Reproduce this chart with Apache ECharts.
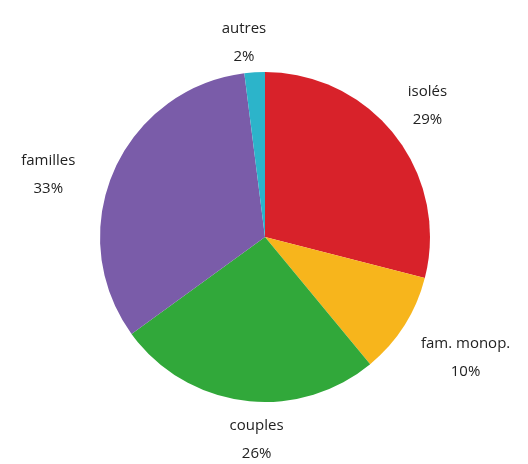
<!DOCTYPE html>
<html>
<head>
<meta charset="utf-8">
<script src="https://cdn.jsdelivr.net/npm/echarts@6/dist/echarts.min.js"></script>
<style>
  html, body { margin: 0; padding: 0; background: #fff; }
  #chart { width: 528px; height: 464px; }
</style>
</head>
<body>
<div id="chart"></div>
<script>
// parts des ménages
var categories = ['isolés', 'fam. monop.', 'couples', 'familles', 'autres'];
var values = [29, 10, 26, 33, 2];
var colors = ['#d8222a', '#f7b51c', '#31a83a', '#7a5ca9', '#2cb4ca'];

// nudges for the labels, same order as categories
var labelDx = [-10, -7, 47, -13, 18];
var labelDy = [-17, 21, 17, 12, -8];

var pieData = categories.map(function (name, i) {
    return { name: name, value: values[i] };
});

var myChart = echarts.init(document.getElementById('chart'));
var option = {
    color: colors,
    animation: false,
    series: [
        {
            type: 'pie',
            center: [265, 237],
            radius: 165,
            startAngle: 90,
            clockwise: true,
            data: pieData,
            itemStyle: {
                borderWidth: 0
            },
            label: {
                position: 'outside',
                formatter: '{b}\n{d}%',
                fontFamily: 'Open Sans',
                fontSize: 15,
                lineHeight: 28,
                color: '#222'
            },
            labelLine: {
                show: false,
                length: 22,
                length2: 0
            },
            labelLayout: function (params) {
                var r = params.labelRect;
                var i = params.dataIndex;
                return {
                    x: r.x + r.width / 2 + labelDx[i],
                    y: r.y + r.height / 2 + labelDy[i],
                    align: 'center',
                    verticalAlign: 'middle'
                };
            }
        }
    ]
};
myChart.setOption(option);
</script>
</body>
</html>
